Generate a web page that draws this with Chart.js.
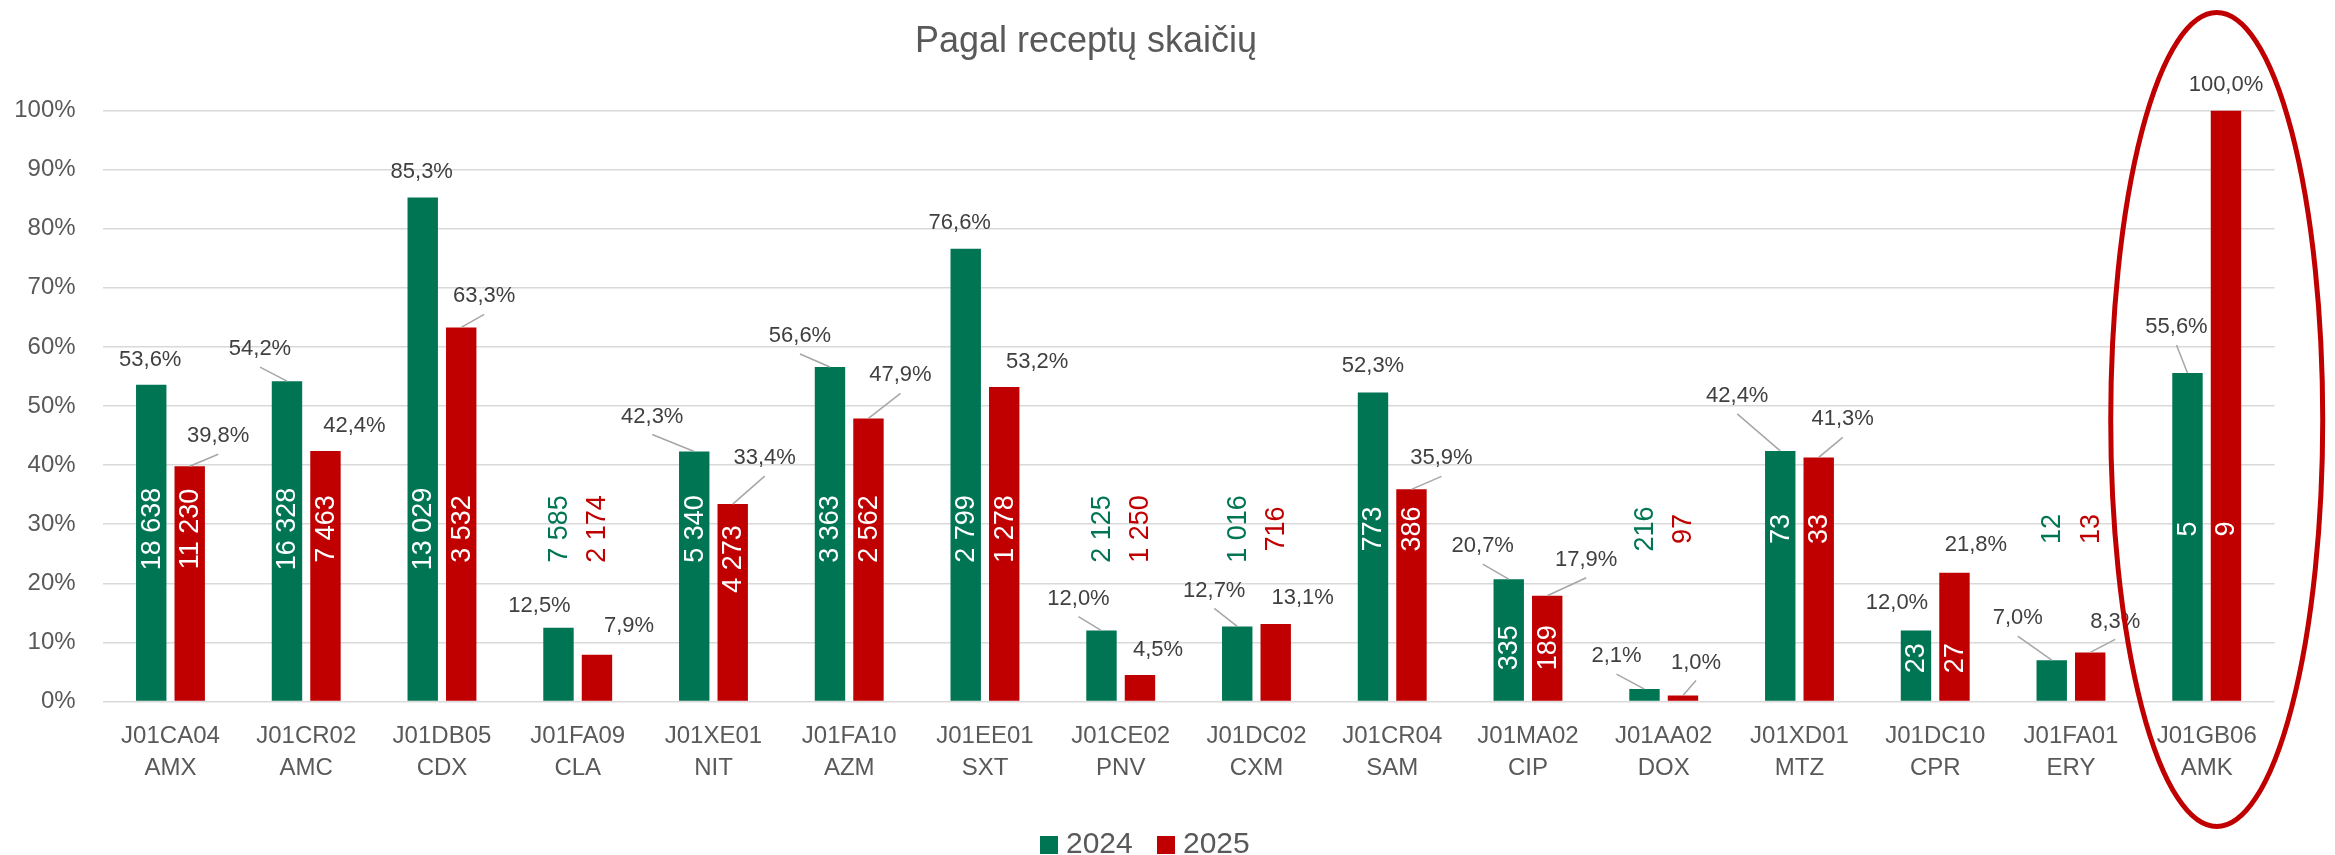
<!DOCTYPE html>
<html>
<head>
<meta charset="utf-8">
<script src="https://cdn.jsdelivr.net/npm/chart.js@4.4.1/dist/chart.umd.min.js"></script>
<style>
  html, body { margin: 0; padding: 0; background: #ffffff; }
  #wrap { width: 2335px; height: 855px; }
</style>
</head>
<body>
<div id="wrap"><canvas id="c" width="2335" height="855"></canvas></div>
<script>
// ---------- DATA ----------
const categories = [
  ['J01CA04', 'AMX'], ['J01CR02', 'AMC'], ['J01DB05', 'CDX'], ['J01FA09', 'CLA'],
  ['J01XE01', 'NIT'], ['J01FA10', 'AZM'], ['J01EE01', 'SXT'], ['J01CE02', 'PNV'],
  ['J01DC02', 'CXM'], ['J01CR04', 'SAM'], ['J01MA02', 'CIP'], ['J01AA02', 'DOX'],
  ['J01XD01', 'MTZ'], ['J01DC10', 'CPR'], ['J01FA01', 'ERY'], ['J01GB06', 'AMK']
];
const seriesNames = ['2024', '2025'];
const pct2024 = [53.6, 54.2, 85.3, 12.5, 42.3, 56.6, 76.6, 12.0, 12.7, 52.3, 20.7, 2.1, 42.4, 12.0, 7.0, 55.6];
const pct2025 = [39.8, 42.4, 63.3, 7.9, 33.4, 47.9, 53.2, 4.5, 13.1, 35.9, 17.9, 1.0, 41.3, 21.8, 8.3, 100.0];
const count2024 = [18638, 16328, 13029, 7585, 5340, 3363, 2799, 2125, 1016, 773, 335, 216, 73, 23, 12, 5];
const count2025 = [11230, 7463, 3532, 2174, 4273, 2562, 1278, 1250, 716, 386, 189, 97, 33, 27, 13, 9];
const yTicks = [0, 10, 20, 30, 40, 50, 60, 70, 80, 90, 100];
const titleText = 'Pagal receptų skaičių';

// ---------- LAYOUT (label placement, not data) ----------
const countLabelLevel2024 = [29.2, 29.2, 29.2, 29.2, 29.2, 29.2, 29.2, 29.2, 29.2, 29.2, 9.1, 29.2, 29.2, 7.3, 29.2, 29.2];
const countLabelLevel2025 = [29.2, 29.2, 29.2, 29.2, 24.1, 29.2, 29.2, 29.2, 29.2, 29.2, 9.1, 29.2, 29.2, 7.3, 29.2, 29.2];
const pctOffset2024 = [[-1,-25],[-27,-32],[-1,-25],[-19,-22],[-42,-35],[-30,-31],[-6,-26],[-23,-32],[-23,-36],[0,-26],[-26,-33],[-28,-33],[-43,-55],[-19,-28],[-34,-42],[-11,-46]];
const pctOffset2025 = [[28.5,-30],[29,-25],[23,-31],[32,-29],[32,-46],[32,-43],[33,-25],[18,-25],[27,-26],[30,-31],[39,-36],[13,-33],[24,-38],[21.5,-28],[25,-31],[0,-26]];

const GREEN = '#007554';
const RED = '#C00000';
const FONT = "'Liberation Sans', Arial, sans-serif";

function fmtPct(v) { return v.toFixed(1).replace('.', ',') + '%'; }
function fmtCount(v) { return String(v).replace(/\B(?=(\d{3})+(?!\d))/g, ' '); }

const overlay = {
  id: 'overlay',
  afterDatasetsDraw(chart) {
    const ctx = chart.ctx;
    const ys = chart.scales.y;
    const cfg = [
      { pct: pct2024, cnt: count2024, lvl: countLabelLevel2024, off: pctOffset2024, color: GREEN },
      { pct: pct2025, cnt: count2025, lvl: countLabelLevel2025, off: pctOffset2025, color: RED }
    ];
    cfg.forEach((c, di) => {
      const meta = chart.getDatasetMeta(di);
      meta.data.forEach((bar, i) => {
        const bx = bar.x, top = bar.y;
        // count labels (rotated)
        ctx.save();
        ctx.font = '27px ' + FONT;
        const txt = fmtCount(c.cnt[i]);
        const w = ctx.measureText(txt).width;
        const cy = ys.getPixelForValue(c.lvl[i]);
        const inside = top <= cy - w / 2 - 2;
        ctx.fillStyle = inside ? '#ffffff' : c.color;
        ctx.translate(bx, cy);
        ctx.rotate(-Math.PI / 2);
        ctx.textAlign = 'center';
        ctx.textBaseline = 'middle';
        ctx.fillText(txt, 0, 1);
        ctx.restore();

        // percent labels with leader lines
        const [dx, dy] = c.off[i];
        const lx = bx + dx, ly = top + dy;
        ctx.save();
        if (dy <= -30) {
          ctx.strokeStyle = '#A6A6A6';
          ctx.lineWidth = 1.5;
          ctx.beginPath();
          ctx.moveTo(lx, ly + 18);
          ctx.lineTo(bx, top);
          ctx.stroke();
        }
        ctx.font = '22px ' + FONT;
        ctx.fillStyle = '#404040';
        ctx.textAlign = 'center';
        ctx.textBaseline = 'middle';
        ctx.fillText(fmtPct(c.pct[i]), lx, ly);
        ctx.restore();
      });
    });
  },
  afterDraw(chart) {
    const ctx = chart.ctx;
    // title
    ctx.save();
    ctx.font = '36px ' + FONT;
    ctx.fillStyle = '#595959';
    ctx.textAlign = 'center';
    ctx.textBaseline = 'alphabetic';
    ctx.fillText(titleText, 1086, 52);
    ctx.restore();

    // legend
    ctx.save();
    ctx.font = '30px ' + FONT;
    ctx.textBaseline = 'middle';
    ctx.textAlign = 'left';
    const items = [
      { label: seriesNames[0], color: GREEN, x: 1040 },
      { label: seriesNames[1], color: RED, x: 1157 }
    ];
    items.forEach(it => {
      ctx.fillStyle = it.color;
      ctx.fillRect(it.x, 836, 18, 18);
      ctx.fillStyle = '#595959';
      ctx.fillText(it.label, it.x + 26, 845);
    });
    ctx.restore();

    // highlight ellipse around the last category
    const meta1 = chart.getDatasetMeta(1);
    const meta0 = chart.getDatasetMeta(0);
    const last = categories.length - 1;
    const cx = (meta0.data[last].x + meta1.data[last].x) / 2 + 10;
    ctx.save();
    ctx.strokeStyle = RED;
    ctx.lineWidth = 5;
    ctx.beginPath();
    ctx.ellipse(cx, 419.5, 106, 407, 0, 0, Math.PI * 2);
    ctx.stroke();
    ctx.restore();
  }
};

new Chart(document.getElementById('c'), {
  type: 'bar',
  data: {
    labels: categories,
    datasets: [
      { label: seriesNames[0], data: pct2024, backgroundColor: GREEN, categoryPercentage: 0.567, barPercentage: 0.79 },
      { label: seriesNames[1], data: pct2025, backgroundColor: RED, categoryPercentage: 0.567, barPercentage: 0.79 }
    ]
  },
  options: {
    responsive: false,
    animation: false,
    devicePixelRatio: 1,
    layout: { padding: { top: 110.5, right: 60.4, bottom: 0, left: 0 } },
    plugins: {
      legend: { display: false },
      title: { display: false },
      tooltip: { enabled: false }
    },
    scales: {
      x: {
        grid: { display: false, drawTicks: false },
        border: { display: false },
        ticks: {
          color: '#595959',
          font: { family: FONT, size: 24, lineHeight: 32 / 24 },
          padding: 18.5,
          maxRotation: 0,
          autoSkip: false
        },
        afterFit(scale) { scale.height = 855 - 701.5; }
      },
      y: {
        min: 0,
        max: 100,
        afterBuildTicks(scale) { scale.ticks = yTicks.map(v => ({ value: v })); },
        grid: { color: '#D9D9D9', lineWidth: 1.5, drawTicks: false },
        border: { display: false },
        ticks: {
          color: '#595959',
          font: { family: FONT, size: 24 },
          padding: 27,
          callback: v => v + '%'
        },
        afterFit(scale) { scale.width = 102.6; }
      }
    }
  },
  plugins: [overlay]
});
</script>
</body>
</html>
